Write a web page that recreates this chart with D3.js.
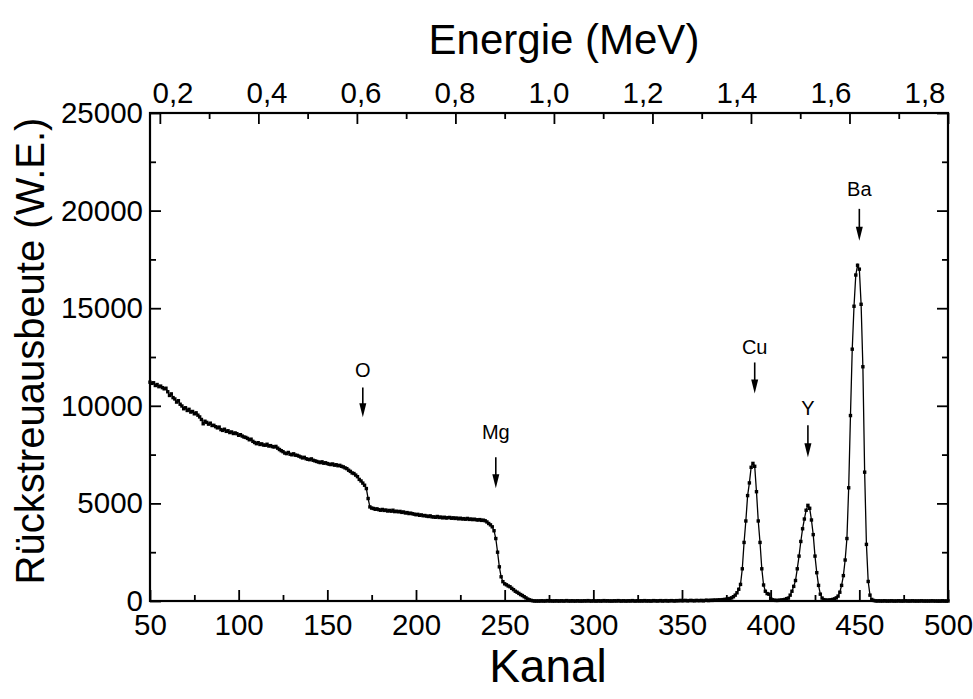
<!DOCTYPE html>
<html>
<head>
<meta charset="utf-8">
<script src="https://cdn.jsdelivr.net/npm/d3@7"></script>
<style>
  body { margin: 0; background: #fff; }
  svg text { font-family: "Liberation Sans", Arial, Helvetica, sans-serif; fill: #000; }
</style>
</head>
<body>
<svg id="chart" width="973" height="699"></svg>
<script>
// RBS spectrum: backscatter yield per channel, channels 50..500
const firstChannel = 50;
const counts = [
  11210, 11150, 11180, 11040, 11090, 10980, 11010, 10930, 10870, 10900,
  10720, 10530, 10610, 10420, 10350, 10190, 10260, 10080, 9990, 9850,
  9900, 9760, 9820, 9680, 9710, 9590, 9640, 9520, 9430, 9300,
  9080, 9210, 9150, 9060, 9110, 8990, 9000, 8930, 8870, 8910,
  8780, 8740, 8800, 8690, 8720, 8630, 8660, 8580, 8610, 8570,
  8490, 8520, 8450, 8400, 8380, 8330, 8260, 8290, 8180, 8120,
  8060, 8110, 8020, 8050, 7990, 7980, 8030, 7940, 7960, 7910,
  7890, 7920, 7830, 7760, 7700, 7650, 7580, 7550, 7610, 7520,
  7490, 7540, 7470, 7460, 7420, 7380, 7330, 7360, 7290, 7260,
  7240, 7280, 7210, 7180, 7150, 7120, 7090, 7130, 7060, 7080,
  7040, 7010, 6990, 7020, 6960, 6980, 6930, 6950, 6900, 6870,
  6820, 6780, 6700, 6640, 6560, 6530, 6450, 6370, 6230, 6150,
  6040, 5930, 5760, 5250, 4820, 4760, 4740, 4700, 4720, 4680,
  4650, 4690, 4640, 4660, 4610, 4640, 4600, 4650, 4580, 4600,
  4570, 4590, 4540, 4560, 4510, 4530, 4480, 4500, 4470, 4450,
  4420, 4440, 4390, 4410, 4370, 4380, 4350, 4330, 4360, 4310,
  4310, 4290, 4330, 4280, 4300, 4260, 4290, 4250, 4270, 4280,
  4240, 4260, 4230, 4250, 4210, 4240, 4200, 4220, 4190, 4230,
  4180, 4200, 4170, 4190, 4160, 4150, 4170, 4130, 4140, 4110,
  4050, 3970, 3900, 3800, 3600, 3200, 2500, 1750, 1240, 990,
  880, 830, 770, 730, 650, 580, 500, 450, 390, 330,
  280, 220, 160, 100, 60, 30, 10, 0, 0, 0,
  0, 10, 0, 0, 20, 0, 10, 0, 0, 10,
  0, 0, 10, 0, 0, 20, 0, 0, 10, 0,
  0, 10, 0, 0, 0, 10, 0, 20, 0, 0,
  10, 0, 0, 10, 0, 0, 20, 0, 10, 0,
  0, 0, 10, 0, 20, 0, 0, 10, 0, 0,
  10, 0, 20, 0, 0, 10, 0, 10, 0, 20,
  0, 10, 0, 0, 20, 10, 0, 10, 20, 0,
  10, 20, 0, 10, 20, 10, 0, 20, 10, 30,
  10, 20, 30, 10, 20, 30, 20, 10, 30, 20,
  20, 30, 10, 30, 40, 20, 40, 30, 50, 40,
  50, 60, 50, 70, 80, 90, 110, 130, 160, 220,
  300, 420, 600, 850, 1650, 3000, 4100, 5400, 6050, 6850,
  7050, 6900, 5600, 4100, 3000, 1650, 820, 500, 380, 350,
  120, 60, 40, 30, 30, 40, 50, 60, 80, 120,
  150, 300, 500, 750, 1050, 1650, 2300, 3050, 3700, 4200,
  4650, 4900, 4750, 4150, 3400, 2300, 1450, 800, 350, 150,
  70, 50, 40, 50, 60, 80, 110, 160, 250, 450,
  800, 1300, 2100, 3200, 5800, 9500, 12900, 15100, 16700, 17200,
  17000, 15200, 12000, 6600, 2900, 1000, 300, 80, 30, 10,
  0, 10, 0, 0, 10, 0, 0, 0, 10, 0,
  0, 0, 10, 0, 0, 0, 10, 0, 0, 0,
  10, 0, 0, 0, 0, 10, 0, 0, 0, 0,
  0, 10, 0, 0, 0, 0, 0, 10, 0, 0,
  0
];

// Axis ticks
const channelTicks = [50, 100, 150, 200, 250, 300, 350, 400, 450, 500];
const channelMinorTicks = [75, 125, 175, 225, 275, 325, 375, 425, 475];
const yieldTicks = [0, 5000, 10000, 15000, 20000, 25000];
const yieldMinorTicks = [2500, 7500, 12500, 17500, 22500];
const energyTicks = [0.2, 0.4, 0.6, 0.8, 1.0, 1.2, 1.4, 1.6, 1.8];
const energyMinorTicks = [0.3, 0.5, 0.7, 0.9, 1.1, 1.3, 1.5, 1.7];
const energyLabels = ["0,2", "0,4", "0,6", "0,8", "1,0", "1,2", "1,4", "1,6", "1,8"];
const mevPerChannel = 0.0036;

// Element edges marked by arrows (channel, label level, arrow start, arrow tip)
const elementNames = ["O", "Mg", "Cu", "Y", "Ba"];
const elementChannels = [170, 245, 391, 421, 450];
const elementLabelLevels = [11810, 8640, 12990, 9870, 21110];
const arrowStartLevels = [10940, 7360, 12220, 9000, 20090];
const arrowTipLevels = [9410, 5780, 10630, 7360, 18460];

const svg = d3.select("#chart");
const plotLeft = 150, plotRight = 948, plotTop = 113, plotBottom = 601;

const x = d3.scaleLinear().domain([50, 500]).range([plotLeft, plotRight]);
const y = d3.scaleLinear().domain([0, 25000]).range([plotBottom, plotTop]);
const energy = d3.scaleLinear()
  .domain([50 * mevPerChannel, 500 * mevPerChannel])
  .range([plotLeft, plotRight]);
// placement of the energy tick labels along the top edge
const energyLabelPos = d3.scaleLinear().domain([0.2, 1.8]).range([173, 925]);

const tickFont = 29.5;

function styleAxis(g) {
  g.select(".domain").remove();
  g.selectAll(".tick line").attr("stroke", "#000").attr("stroke-width", 1.8);
  g.selectAll(".tick text").attr("font-size", tickFont).attr("fill", "#000")
    .style("font-family", '"Liberation Sans", Arial, sans-serif');
}

// bottom axis (Kanal)
svg.append("g").attr("transform", `translate(0,${plotBottom})`)
  .call(d3.axisBottom(x).tickValues(channelTicks).tickSize(-11).tickPadding(13).tickFormat(d3.format("d")))
  .call(styleAxis);
svg.append("g").attr("transform", `translate(0,${plotBottom})`)
  .call(d3.axisBottom(x).tickValues(channelMinorTicks).tickSize(-6).tickFormat(""))
  .call(styleAxis);

// left axis
svg.append("g").attr("transform", `translate(${plotLeft},0)`)
  .call(d3.axisLeft(y).tickValues(yieldTicks).tickSize(-11).tickPadding(7).tickFormat(d3.format("d")))
  .call(styleAxis);
svg.append("g").attr("transform", `translate(${plotLeft},0)`)
  .call(d3.axisLeft(y).tickValues(yieldMinorTicks).tickSize(-6).tickFormat(""))
  .call(styleAxis);

// right axis (ticks only)
svg.append("g").attr("transform", `translate(${plotRight},0)`)
  .call(d3.axisRight(y).tickValues(yieldTicks).tickSize(-11).tickFormat(""))
  .call(styleAxis);
svg.append("g").attr("transform", `translate(${plotRight},0)`)
  .call(d3.axisRight(y).tickValues(yieldMinorTicks).tickSize(-6).tickFormat(""))
  .call(styleAxis);

// top axis (Energie)
svg.append("g").attr("transform", `translate(0,${plotTop})`)
  .call(d3.axisTop(energy).tickValues(energyTicks).tickSize(-11).tickFormat(""))
  .call(styleAxis);
svg.append("g").attr("transform", `translate(0,${plotTop})`)
  .call(d3.axisTop(energy).tickValues(energyMinorTicks).tickSize(-6).tickFormat(""))
  .call(styleAxis);
svg.append("g").selectAll("text").data(energyTicks).join("text")
  .attr("x", d => energyLabelPos(d))
  .attr("y", plotTop - 10)
  .attr("text-anchor", "middle")
  .attr("font-size", tickFont)
  .text((d, i) => energyLabels[i]);

// frame
svg.append("rect")
  .attr("x", plotLeft).attr("y", plotTop)
  .attr("width", plotRight - plotLeft).attr("height", plotBottom - plotTop)
  .attr("fill", "none").attr("stroke", "#000").attr("stroke-width", 2.2);

// spectrum
const points = counts.map((v, i) => ({ ch: firstChannel + i, v }));
svg.append("path")
  .datum(points)
  .attr("fill", "none").attr("stroke", "#000").attr("stroke-width", 1.3)
  .attr("d", d3.line().x(d => x(d.ch)).y(d => y(d.v)));
const ms = 3.4;
svg.append("g").selectAll("rect").data(points).join("rect")
  .attr("x", d => x(d.ch) - ms / 2)
  .attr("y", d => y(d.v) - ms / 2)
  .attr("width", ms).attr("height", ms)
  .attr("fill", "#000");

// element labels and arrows
const marks = svg.append("g");
elementNames.forEach((name, i) => {
  const cx = x(elementChannels[i]);
  marks.append("text")
    .attr("x", cx).attr("y", y(elementLabelLevels[i]))
    .attr("text-anchor", "middle").attr("dominant-baseline", "central")
    .attr("font-size", 20).text(name);
  const y0 = y(arrowStartLevels[i]);
  const y1 = y(arrowTipLevels[i]);
  marks.append("line")
    .attr("x1", cx).attr("x2", cx).attr("y1", y0).attr("y2", y1 - 8)
    .attr("stroke", "#000").attr("stroke-width", 1.6);
  marks.append("path")
    .attr("d", `M${cx - 3.5},${y1 - 14}L${cx + 3.5},${y1 - 14}L${cx},${y1}Z`)
    .attr("fill", "#000");
});

// axis titles
svg.append("text")
  .attr("x", 564).attr("y", 54)
  .attr("text-anchor", "middle").attr("font-size", 42)
  .text("Energie (MeV)");
svg.append("text")
  .attr("x", 548).attr("y", 682)
  .attr("text-anchor", "middle").attr("font-size", 46)
  .text("Kanal");
svg.append("text")
  .attr("transform", "translate(44,351) rotate(-90)")
  .attr("text-anchor", "middle").attr("font-size", 40)
  .text("Rückstreuausbeute (W.E.)");
</script>
</body>
</html>
